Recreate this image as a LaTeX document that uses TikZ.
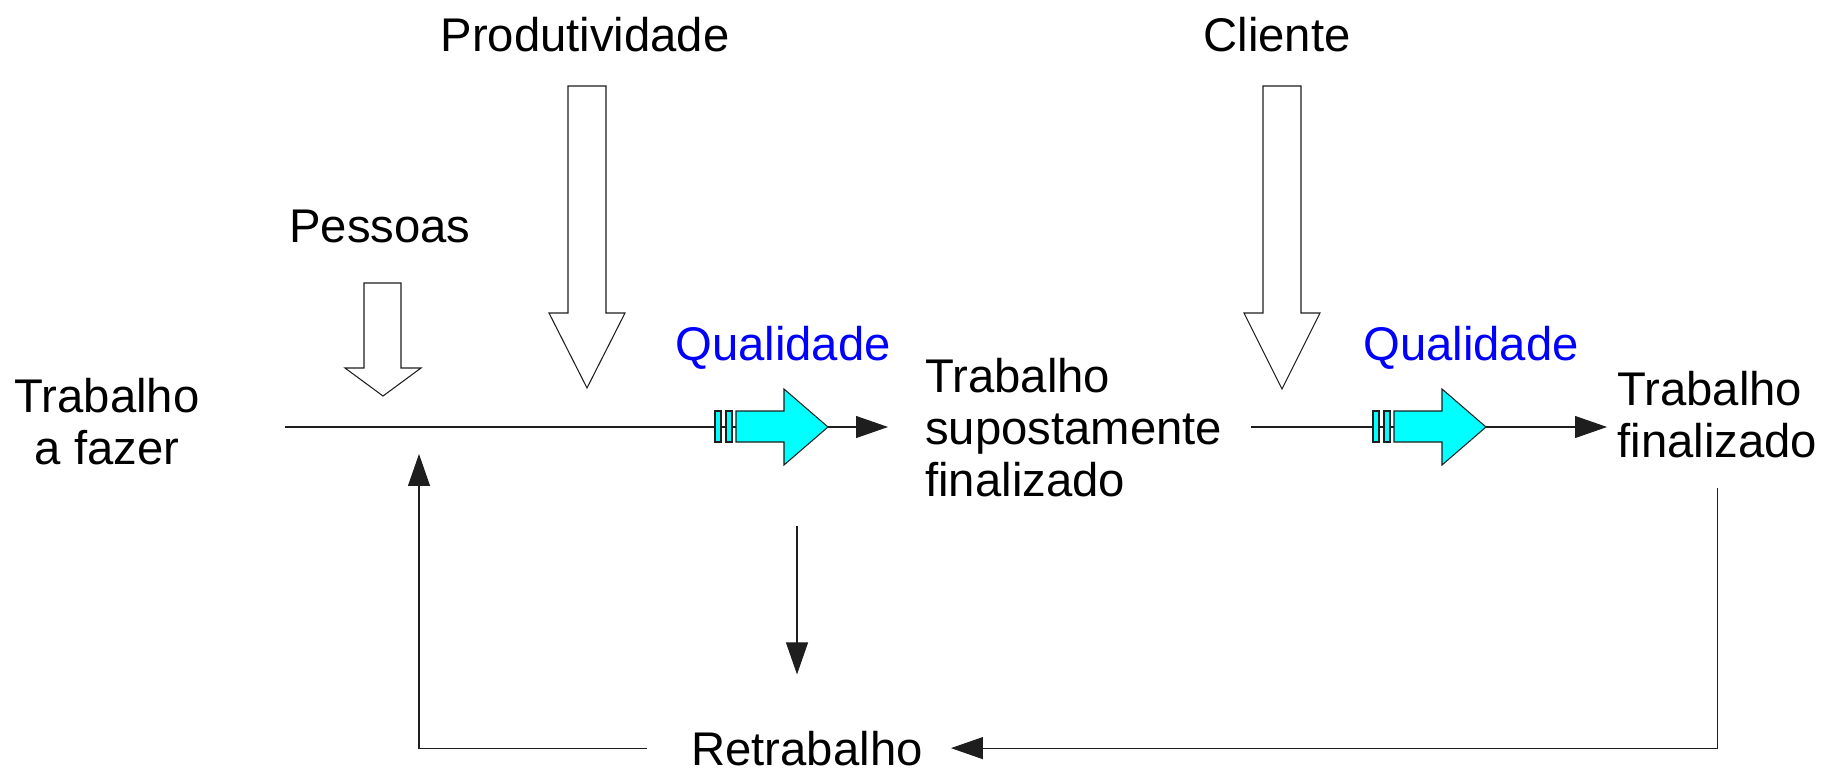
\documentclass[tikz,border=0pt]{standalone}
\usepackage{fontspec}
\setmainfont{Liberation Sans}
\usetikzlibrary{arrows.meta}
\definecolor{gatecyan}{RGB}{0, 255, 255}
\definecolor{qualblue}{RGB}{0, 0, 255}
\definecolor{linedark}{RGB}{30, 30, 30}

\begin{document}
\begin{tikzpicture}[
    x=0.02cm, y=-0.02cm,
    txt/.style={inner sep=0pt, font=\fontsize{26.9}{29.6}\selectfont},
    wire/.style={line width=0.6pt, color=linedark},
    arrow/.style={-{Triangle[length=0.64cm, width=0.44cm]}, line width=0.6pt, color=linedark},
    block/.style={draw=linedark, fill=white, line width=0.6pt},
    gate/.pic={
        \draw[wire, fill=gatecyan] (0,-16) rectangle (6,15);
        \draw[wire, fill=gatecyan] (11,-16) rectangle (17,15);
        \draw[wire, fill=gatecyan] (21,-16) -- (69,-16) -- (69,-38) -- (113,0) -- (69,38) -- (69,15) -- (21,15) -- cycle;
    },
]
\useasboundingbox (0,0) rectangle (1824,767);

% Work items
\node[txt, align=center, anchor=north] (todo) at (107,378) {Trabalho\\a fazer};
\node[txt, align=left, anchor=north west] (supposed) at (925,358) {Trabalho\\supostamente\\finalizado};
\node[txt, align=left, anchor=north west] (done) at (1617,371) {Trabalho\\finalizado};
\node[txt, anchor=base] (rework) at (807,765) {Retrabalho};

% Inputs from above
\node[txt, anchor=base] (people) at (380,242) {Pessoas};
\node[txt, anchor=base] (prod) at (585,52) {Produtividade};
\node[txt, anchor=base] (client) at (1277,52) {Cliente};

\draw[block] (364,283) -- (401,283) -- (401,368) -- (421,368) -- (383,396) -- (345,368) -- (364,368) -- cycle;
\draw[block] (568,86) -- (606,86) -- (606,313) -- (625,313) -- (587,388) -- (549,313) -- (568,313) -- cycle;
\draw[block] (1263,86) -- (1301,86) -- (1301,313) -- (1320,313) -- (1282,389) -- (1244,313) -- (1263,313) -- cycle;

% Quality gates
\node[txt, anchor=base, color=qualblue] (qual1) at (783,360) {Qualidade};
\node[txt, anchor=base, color=qualblue] (qual2) at (1471,360) {Qualidade};

\coordinate (start) at (285,427);
\draw[arrow, shorten >=0.74cm] (start) -- (supposed.west |- start);
\draw[arrow, shorten <=0.56cm, shorten >=0.2cm] (supposed.east |- start) -- (done.west |- start);

\pic at (715,427) {gate};
\pic at (1373,427) {gate};

% Rework loop
\coordinate (drop) at (797,526);
\coordinate (join) at (419,427);
\draw[arrow, shorten >=1.12cm] (drop) -- (drop |- rework.north);
\draw[arrow, shorten <=0.6cm, shorten >=0.56cm] (done.south) |- (rework.east);
\draw[arrow, shorten <=0.88cm, shorten >=0.54cm] (rework.west) -| (join);

\end{tikzpicture}
\end{document}
